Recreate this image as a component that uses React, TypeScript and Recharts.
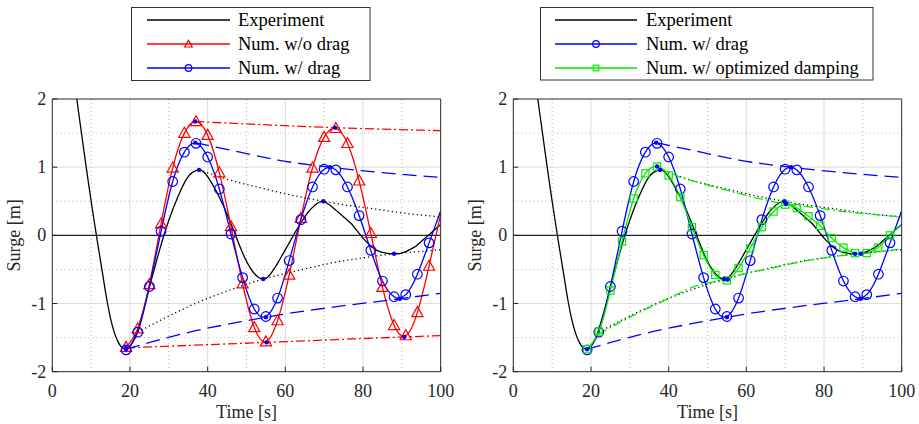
import React from 'react';
import { ComposedChart, Line, XAxis, YAxis, CartesianGrid, ReferenceLine, Label } from 'recharts';

const FONT = "'Liberation Serif', 'Times New Roman', Times, serif";
const TXT = { fontFamily: FONT };
const AX = '#262626';
const RED = '#ff0000';
const BLUE = '#0000ff';
const GREEN = '#00ee00';

// ---------- data ----------
const xTicks = [0, 20, 40, 60, 80, 100];
const yTicks = [-2, -1, 0, 1, 2];

// experiment: time 4..100 s, 1 s step
const expTime = Array.from({ length: 97 }, (_, i) => 4 + i);
const expVal = [
  2.95, 2.55, 2.13, 1.71, 1.3, 0.89, 0.5, 0.13, -0.23, -0.58,
  -0.93, -1.22, -1.43, -1.57, -1.65, -1.67, -1.63, -1.53, -1.38, -1.19,
  -0.98, -0.76, -0.55, -0.34, -0.14, 0.05, 0.22, 0.38, 0.52, 0.65,
  0.77, 0.86, 0.92, 0.95, 0.96, 0.93, 0.86, 0.77, 0.67, 0.56,
  0.44, 0.31, 0.17, 0.03, -0.12, -0.26, -0.38, -0.48, -0.56, -0.61,
  -0.64, -0.63, -0.58, -0.5, -0.41, -0.31, -0.21, -0.11, -0.01, 0.09,
  0.18, 0.27, 0.35, 0.41, 0.46, 0.49, 0.49, 0.46, 0.42, 0.37,
  0.32, 0.27, 0.22, 0.17, 0.1, 0.03, -0.04, -0.1, -0.16, -0.2,
  -0.23, -0.25, -0.26, -0.27, -0.27, -0.27, -0.26, -0.24, -0.21, -0.18,
  -0.14, -0.09, -0.04, 0.01, 0.06, 0.11, 0.16,
];

// numerical samples (markers every 3 s, last point at 100 s has no marker)
const sampleTime = [19, 22, 25, 28, 31, 34, 37, 40, 43, 46, 49, 52, 55, 58, 61, 64, 67, 70, 73, 76, 79, 82, 85, 88, 91, 94, 97, 100];
const noDrag = [-1.64, -1.37, -0.72, 0.17, 0.99, 1.5, 1.67, 1.47, 0.92, 0.13, -0.71, -1.35, -1.56, -1.25, -0.58, 0.25, 0.99, 1.44, 1.57, 1.35, 0.8, 0.03, -0.76, -1.32, -1.47, -1.13, -0.45, 0.31];
const withDrag = [-1.68, -1.42, -0.75, 0.06, 0.79, 1.22, 1.35, 1.15, 0.68, 0.02, -0.62, -1.08, -1.19, -0.92, -0.37, 0.23, 0.71, 0.97, 0.96, 0.71, 0.29, -0.22, -0.67, -0.9, -0.87, -0.57, -0.11, 0.36];
const optDamp = [-1.67, -1.41, -0.81, -0.09, 0.54, 0.91, 1.01, 0.88, 0.56, 0.12, -0.29, -0.58, -0.66, -0.48, -0.19, 0.12, 0.35, 0.45, 0.4, 0.28, 0.14, -0.04, -0.18, -0.26, -0.26, -0.18, 0.0, 0.15];

// envelopes (peak points flagged)
const redUpT = [36.8, 72.8, 100];
const redUpV = [1.67, 1.58, 1.535];
const redUpPk = [36.8, 72.8];
const redLoT = [19, 55.2, 90.6, 100];
const redLoV = [-1.65, -1.57, -1.49, -1.47];
const redLoPk = [19, 55.2, 90.6];

const blueUpT = [36.8, 48.3, 58.5, 71.5, 85, 100];
const blueUpV = [1.36, 1.22, 1.1, 1.0, 0.92, 0.85];
const blueUpPk = [36.8, 71.5];
const blueLoT = [19, 36.1, 48.3, 55, 71.3, 89.5, 100];
const blueLoV = [-1.67, -1.41, -1.27, -1.2, -1.06, -0.93, -0.85];
const blueLoPk = [19, 55, 89.5];

const blackUpT = [37.8, 43, 48.3, 53.5, 60, 69.8, 76, 82.6, 90, 100];
const blackUpV = [0.96, 0.86, 0.77, 0.7, 0.61, 0.5, 0.44, 0.39, 0.33, 0.27];
const blackUpPk = [37.8, 69.8];
const blackLoT = [22, 27.7, 33, 38, 43, 48.3, 54.3, 60, 66, 72.4, 80, 88, 94, 100];
const blackLoV = [-1.42, -1.25, -1.1, -0.97, -0.86, -0.75, -0.64, -0.56, -0.48, -0.4, -0.33, -0.27, -0.24, -0.21];
const blackLoPk = [54.3, 88];

const greenUpT = [37, 42.2, 48, 55, 64.9, 70.2, 77.3, 85, 92, 100];
const greenUpV = [1.01, 0.87, 0.77, 0.66, 0.52, 0.46, 0.41, 0.35, 0.31, 0.27];
const greenUpPk = [37, 70.2];
const greenLoT = [22, 30, 38, 48.2, 55.2, 58.5, 65, 71.3, 79.9, 89.5, 100];
const greenLoV = [-1.45, -1.2, -0.98, -0.72, -0.65, -0.58, -0.5, -0.42, -0.33, -0.27, -0.2];
const greenLoPk = [55.2, 89.5];

// ---------- build rows ----------
const expRows = expTime.map((t, i) => ({ t, v: expVal[i] }));
const sampleRows = (vals: number[]) => sampleTime.map((t, i) => ({ t, v: vals[i], m: t < 100 }));
const envRows = (ts: number[], vs: number[], pk: number[]) => ts.map((t, i) => ({ t, v: vs[i], p: pk.includes(t) }));

const noDragRows = sampleRows(noDrag);
const withDragRows = sampleRows(withDrag);
const optDampRows = sampleRows(optDamp);

// ---------- markers ----------
function makeDot(kind: string, color: string) {
  return (p: any) => {
    const { cx, cy, payload, index } = p;
    const key = `d${kind}${index}`;
    if (cx == null || cy == null || !payload || !payload.m) return <g key={key} />;
    if (kind === 'tri') {
      return (
        <polygon key={key} points={`${cx},${cy - 5.8} ${cx - 5.6},${cy + 4.2} ${cx + 5.6},${cy + 4.2}`}
          fill="none" stroke={color} strokeWidth={1.2} />
      );
    }
    if (kind === 'circ') {
      return <circle key={key} cx={cx} cy={cy} r={4.8} fill="none" stroke={color} strokeWidth={1.2} />;
    }
    return <rect key={key} x={cx - 3.6} y={cy - 3.6} width={7.2} height={7.2} fill="none" stroke={color} strokeWidth={1.2} />;
  };
}
const peakDot = (p: any) => {
  const { cx, cy, payload, index } = p;
  const key = `pk${index}`;
  if (cx == null || cy == null || !payload || !payload.p) return <g key={key} />;
  return <circle key={key} cx={cx} cy={cy} r={2.2} fill={BLUE} stroke="none" />;
};

// ---------- ticks ----------
const BottomTick = (p: any) => (
  <g>
    <line x1={p.x} y1={p.y} x2={p.x} y2={p.y - 5} stroke={AX} strokeWidth={1} />
    <text x={p.x} y={p.y + 25} textAnchor="middle" style={TXT} fontSize={18} fill={AX}>{String(p.payload.value)}</text>
  </g>
);
const TopTick = (p: any) => (
  <line x1={p.x} y1={p.y} x2={p.x} y2={p.y + 5} stroke={AX} strokeWidth={1} />
);
const LeftTick = (p: any) => (
  <g>
    <line x1={p.x} y1={p.y} x2={p.x + 5} y2={p.y} stroke={AX} strokeWidth={1} />
    <text x={p.x - 6} y={p.y + 6} textAnchor="end" style={TXT} fontSize={18} fill={AX}>{String(p.payload.value)}</text>
  </g>
);
const RightTick = (p: any) => (
  <line x1={p.x} y1={p.y} x2={p.x - 5} y2={p.y} stroke={AX} strokeWidth={1} />
);

const XLabel = (p: any) => {
  const vb = p.viewBox;
  return (
    <text x={vb.x + vb.width / 2} y={vb.y + 46.5} textAnchor="middle" style={TXT} fontSize={18} fill={AX}>Time [s]</text>
  );
};
const YLabel = (p: any) => {
  const vb = p.viewBox;
  const x = vb.x + vb.width - 32;
  const y = vb.y + vb.height / 2;
  return (
    <text x={x} y={y} transform={`rotate(-90 ${x} ${y})`} textAnchor="middle" style={TXT} fontSize={18} fill={AX}>Surge [m]</text>
  );
};

const DASH = '14 7';
const DASHDOT = '9 3 2 3';
const DOT = '1.2 3';

function ChartPanel({ which }: { which: 'a' | 'b' }) {
  const common = { isAnimationActive: false, activeDot: false as any, xAxisId: 0, yAxisId: 0 };
  return (
    <ComposedChart width={460} height={424} margin={{ top: 98, right: 18.3, bottom: 22.3, left: 12.3 }}>
      <XAxis xAxisId={0} dataKey="t" type="number" domain={[0, 100]} ticks={xTicks} allowDataOverflow
        height={30} tickLine={false} tickSize={0} tickMargin={0} tick={BottomTick}
        axisLine={{ stroke: AX, strokeWidth: 1 }} interval={0}>
        <Label content={XLabel} />
      </XAxis>
      <XAxis xAxisId="top" orientation="top" dataKey="t" type="number" domain={[0, 100]} ticks={xTicks}
        height={1} tickLine={false} tickSize={0} tickMargin={0} tick={TopTick}
        axisLine={{ stroke: AX, strokeWidth: 1 }} interval={0} />
      <YAxis yAxisId={0} type="number" domain={[-2, 2]} ticks={yTicks} allowDataOverflow
        width={40} tickLine={false} tickSize={0} tickMargin={0} tick={LeftTick}
        axisLine={{ stroke: AX, strokeWidth: 1 }} interval={0}>
        <Label content={YLabel} />
      </YAxis>
      <YAxis yAxisId="right" orientation="right" type="number" domain={[-2, 2]} ticks={yTicks}
        width={1} tickLine={false} tickSize={0} tickMargin={0} tick={RightTick}
        axisLine={{ stroke: AX, strokeWidth: 1 }} interval={0} />
      <CartesianGrid xAxisId={0} yAxisId={0} verticalValues={[20, 40, 60, 80]} horizontalValues={[-1, 1]}
        stroke="#dedede" strokeWidth={1} />
      <CartesianGrid xAxisId={0} yAxisId={0} verticalValues={[10, 30, 50, 70, 90]} horizontalValues={[-1.5, -0.5, 0.5, 1.5]}
        stroke="#b4b4b4" strokeWidth={1} strokeDasharray="1 3" />
      <ReferenceLine xAxisId={0} yAxisId={0} y={0} stroke={AX} strokeWidth={1.3} />

      <Line {...common} data={expRows} dataKey="v" type="monotone" stroke="#000" strokeWidth={1.3} dot={false} />
      {which === 'a' && (
        <Line {...common} data={noDragRows} dataKey="v" type="natural" stroke={RED} strokeWidth={1.3} dot={makeDot('tri', RED)} />
      )}
      <Line {...common} data={withDragRows} dataKey="v" type="natural" stroke={BLUE} strokeWidth={1.3} dot={makeDot('circ', BLUE)} />
      {which === 'b' && (
        <Line {...common} data={optDampRows} dataKey="v" type="natural" stroke={GREEN} strokeWidth={1.3} dot={makeDot('sq', GREEN)} />
      )}

      {which === 'a' && (
        <Line {...common} data={envRows(redUpT, redUpV, redUpPk)} dataKey="v" type="monotone" stroke={RED} strokeWidth={1.3} strokeDasharray={DASHDOT} dot={peakDot} />
      )}
      {which === 'a' && (
        <Line {...common} data={envRows(redLoT, redLoV, redLoPk)} dataKey="v" type="monotone" stroke={RED} strokeWidth={1.3} strokeDasharray={DASHDOT} dot={peakDot} />
      )}
      <Line {...common} data={envRows(blueUpT, blueUpV, blueUpPk)} dataKey="v" type="monotone" stroke={BLUE} strokeWidth={1.3} strokeDasharray={DASH} dot={peakDot} />
      <Line {...common} data={envRows(blueLoT, blueLoV, blueLoPk)} dataKey="v" type="monotone" stroke={BLUE} strokeWidth={1.3} strokeDasharray={DASH} dot={peakDot} />
      <Line {...common} data={envRows(blackUpT, blackUpV, blackUpPk)} dataKey="v" type="monotone" stroke="#000" strokeWidth={1.3} strokeDasharray={DOT} dot={peakDot} />
      <Line {...common} data={envRows(blackLoT, blackLoV, blackLoPk)} dataKey="v" type="monotone" stroke="#000" strokeWidth={1.3} strokeDasharray={DOT} dot={peakDot} />
      {which === 'b' && (
        <Line {...common} data={envRows(greenUpT, greenUpV, greenUpPk)} dataKey="v" type="monotone" stroke={GREEN} strokeWidth={1.3} strokeDasharray={DASHDOT} dot={peakDot} />
      )}
      {which === 'b' && (
        <Line {...common} data={envRows(greenLoT, greenLoV, greenLoPk)} dataKey="v" type="monotone" stroke={GREEN} strokeWidth={1.3} strokeDasharray={DASHDOT} dot={peakDot} />
      )}
    </ComposedChart>
  );
}

// ---------- legends ----------
const legendA = [
  { label: 'Experiment', color: '#000', kind: '' },
  { label: 'Num. w/o drag', color: RED, kind: 'tri' },
  { label: 'Num. w/ drag', color: BLUE, kind: 'circ' },
];
const legendB = [
  { label: 'Experiment', color: '#000', kind: '' },
  { label: 'Num. w/ drag', color: BLUE, kind: 'circ' },
  { label: 'Num. w/ optimized damping', color: GREEN, kind: 'sq' },
];

function LegendMarker({ kind, color, x, y }: { kind: string; color: string; x: number; y: number }) {
  if (kind === 'tri') return <polygon points={`${x},${y - 3.8} ${x - 3.8},${y + 3} ${x + 3.8},${y + 3}`} fill="none" stroke={color} strokeWidth={1.2} />;
  if (kind === 'circ') return <circle cx={x} cy={y} r={3.3} fill="none" stroke={color} strokeWidth={1.2} />;
  if (kind === 'sq') return <rect x={x - 2.8} y={y - 2.8} width={5.6} height={5.6} fill="none" stroke={color} strokeWidth={1.2} />;
  return null;
}

function LegendBox({ items, x, y, w, h, lx1, lx2, tx }: any) {
  const rows = [20, 44, 68];
  return (
    <g>
      <rect x={x} y={y} width={w} height={h} fill="#fff" stroke="#333" strokeWidth={1} />
      {items.map((it: any, i: number) => (
        <g key={it.label}>
          <line x1={lx1} x2={lx2} y1={rows[i]} y2={rows[i]} stroke={it.color} strokeWidth={1.3} />
          <LegendMarker kind={it.kind} color={it.color} x={(lx1 + lx2) / 2} y={rows[i]} />
          <text x={tx} y={rows[i] + 5.5} style={TXT} fontSize={18.5} fill="#000">{it.label}</text>
        </g>
      ))}
    </g>
  );
}

export default function App() {
  return (
    <div style={{ position: 'absolute', left: 0, top: 0, width: 919, height: 424, background: '#fff', overflow: 'hidden', fontFamily: FONT }}>
      <div style={{ position: 'absolute', left: 0, top: 0 }}>
        <ChartPanel which="a" />
      </div>
      <div style={{ position: 'absolute', left: 460.7, top: 0 }}>
        <ChartPanel which="b" />
      </div>
      <svg width={919} height={424} style={{ position: 'absolute', left: 0, top: 0, pointerEvents: 'none' }}>
        <LegendBox items={legendA} x={131.5} y={7.5} w={238.5} h={73} lx1={147} lx2={230} tx={238} />
        <LegendBox items={legendB} x={540.5} y={7.5} w={332.5} h={72.5} lx1={555} lx2={637} tx={646} />
      </svg>
    </div>
  );
}
